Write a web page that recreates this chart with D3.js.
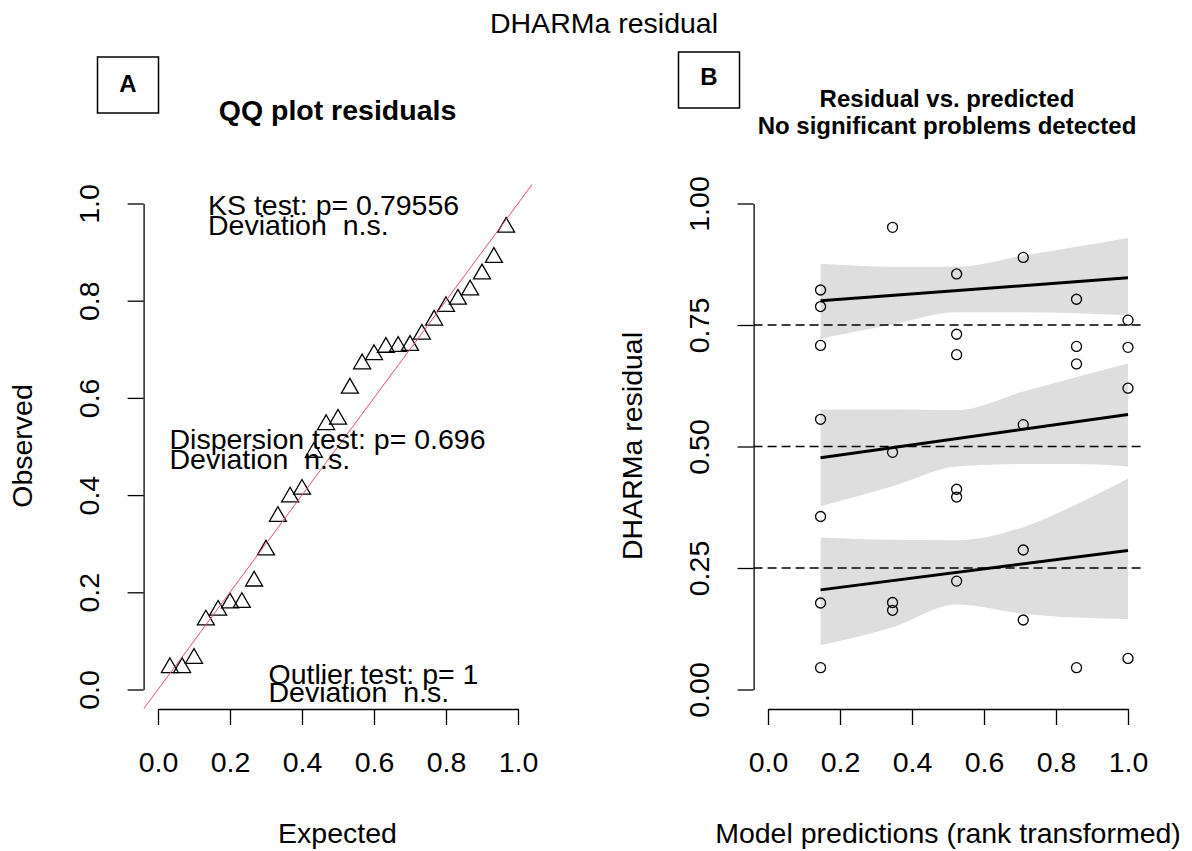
<!DOCTYPE html>
<html>
<head>
<meta charset="utf-8">
<script src="https://cdn.jsdelivr.net/npm/d3@7"></script>
<style>
  body { margin: 0; background: #fff; }
  svg text { font-family: "Liberation Sans", Arial, sans-serif; fill: #000; }
  .pre { white-space: pre; }
</style>
</head>
<body>
<div id="chart"></div>
<script>
// residuals, grouped by rank-transformed prediction
let predicted = [0.146, 0.146, 0.146, 0.146, 0.146, 0.146, 0.146,
                 0.346, 0.346, 0.346, 0.346,
                 0.524, 0.524, 0.524, 0.524, 0.524, 0.524,
                 0.709, 0.709, 0.709, 0.709,
                 0.857, 0.857, 0.857, 0.857,
                 1.0, 1.0, 1.0, 1.0];
let residuals = [0.822, 0.788, 0.708, 0.556, 0.356, 0.178, 0.045,
                 0.951, 0.488, 0.179, 0.163,
                 0.855, 0.731, 0.689, 0.412, 0.396, 0.223,
                 0.889, 0.545, 0.287, 0.143,
                 0.803, 0.706, 0.670, 0.045,
                 0.760, 0.704, 0.620, 0.064];

// QQ plot
let qqExpected = [0.033, 0.067, 0.100, 0.133, 0.167, 0.200, 0.233, 0.267, 0.300, 0.333,
                  0.367, 0.400, 0.433, 0.467, 0.500, 0.533, 0.567, 0.600, 0.633, 0.667,
                  0.700, 0.733, 0.767, 0.800, 0.833, 0.867, 0.900, 0.933, 0.967];
let qqObserved = [0.045, 0.045, 0.064, 0.143, 0.163, 0.178, 0.179, 0.223, 0.287, 0.356,
                  0.396, 0.412, 0.488, 0.545, 0.556, 0.620, 0.670, 0.689, 0.704, 0.706,
                  0.708, 0.731, 0.760, 0.788, 0.803, 0.822, 0.855, 0.889, 0.951];

// quantile fits and their confidence bands
let bandX = [0.146, 0.346, 0.524, 0.709, 0.857, 1.0];
let band75Upper = [0.876, 0.870, 0.870, 0.893, 0.911, 0.929];
let band75Lower = [0.722, 0.751, 0.776, 0.776, 0.774, 0.770];
let band50Upper = [0.576, 0.576, 0.575, 0.613, 0.643, 0.671];
let band50Lower = [0.377, 0.418, 0.459, 0.464, 0.464, 0.459];
let band25Upper = [0.313, 0.308, 0.307, 0.334, 0.381, 0.434];
let band25Lower = [0.091, 0.128, 0.175, 0.156, 0.148, 0.145];
let fitX = [0.146, 1.0];
let fit75 = [0.800, 0.847];
let fit50 = [0.477, 0.566];
let fit25 = [0.205, 0.286];
let quantileRefs = [0.25, 0.5, 0.75];

let qqTicks = [0, 0.2, 0.4, 0.6, 0.8, 1.0];
let resTicks = [0, 0.25, 0.5, 0.75, 1.0];

let tests = [
  ["KS test: p= 0.79556", "Deviation  n.s."],
  ["Dispersion test: p= 0.696", "Deviation  n.s."],
  ["Outlier test: p= 1", "Deviation  n.s."]
];

let svgWidth = 1192;
let svgHeight = 851;
let fs = 28.5;

let svg = d3.select("#chart")
  .append("svg")
  .attr("width", svgWidth)
  .attr("height", svgHeight);

svg.append("rect").attr("width", svgWidth).attr("height", svgHeight).attr("fill", "#fff");

// scales (R adds 4% to each side of the data range)
let xL = d3.scaleLinear().domain([0, 1]).range([158, 518]);
let yL = d3.scaleLinear().domain([0, 1]).range([689.5, 203.5]);
let xR = d3.scaleLinear().domain([0, 1]).range([768, 1128]);
let yR = d3.scaleLinear().domain([0, 1]).range([689.5, 203.5]);
let axisY = 709;

function styleAxis(g) {
  g.selectAll("path, line").attr("stroke", "#000").attr("stroke-width", 1.3);
  g.selectAll("text").attr("font-size", fs).attr("font-family", "Liberation Sans, Arial, sans-serif").attr("fill", "#000");
}

function leftAxis(scale, x, ticks, fmt) {
  let g = svg.append("g")
    .attr("transform", `translate(${x},0)`)
    .call(d3.axisLeft(scale).tickValues(ticks).tickFormat(fmt).tickSize(16).tickSizeOuter(0));
  styleAxis(g);
  g.selectAll(".tick text")
    .attr("transform", "rotate(-90)")
    .attr("x", 0)
    .attr("y", -45)
    .attr("dy", 0)
    .attr("text-anchor", "middle");
}

function bottomAxis(scale, ticks) {
  let g = svg.append("g")
    .attr("transform", `translate(0,${axisY})`)
    .call(d3.axisBottom(scale).tickValues(ticks).tickFormat(d3.format(".1f")).tickSize(16).tickSizeOuter(0).tickPadding(27));
  styleAxis(g);
}

// ---------- panel A: QQ plot ----------
let clipL = svg.append("clipPath").attr("id", "clipL").append("rect")
  .attr("x", xL(-0.04)).attr("y", yL(1.04))
  .attr("width", xL(1.04) - xL(-0.04)).attr("height", yL(-0.04) - yL(1.04));

let r = 9.8, xc = r * Math.sqrt(3) / 2;
let triPath = `M0,${-r}L${xc},${r / 2}L${-xc},${r / 2}Z`;

svg.append("g").selectAll("path")
  .data(qqExpected)
  .enter()
  .append("path")
  .attr("d", triPath)
  .attr("transform", (d, i) => `translate(${xL(d)},${yL(qqObserved[i])})`)
  .attr("fill", "none")
  .attr("stroke", "#000")
  .attr("stroke-width", 1.3);

svg.append("line")
  .attr("clip-path", "url(#clipL)")
  .attr("x1", xL(-0.1)).attr("y1", yL(-0.1))
  .attr("x2", xL(1.1)).attr("y2", yL(1.1))
  .attr("stroke", "#DF536B")
  .attr("stroke-width", 1);

leftAxis(yL, xL(-0.04), qqTicks, d3.format(".1f"));
bottomAxis(xL, qqTicks);

let testPos = [[208, 215, 235], [169.5, 449, 468.5], [268.5, 684, 702]];
tests.forEach(function(t, i) {
  let p = testPos[i];
  svg.append("text").attr("class", "pre").attr("x", p[0]).attr("y", p[1]).attr("font-size", fs).text(t[0]);
  svg.append("text").attr("class", "pre").attr("x", p[0]).attr("y", p[2]).attr("font-size", fs).text(t[1]);
});

svg.append("text")
  .attr("x", 337.5).attr("y", 120)
  .attr("text-anchor", "middle")
  .attr("font-size", fs).attr("font-weight", "bold")
  .text("QQ plot residuals");

svg.append("text")
  .attr("x", 337.5).attr("y", 843)
  .attr("text-anchor", "middle")
  .attr("font-size", fs)
  .text("Expected");

svg.append("text")
  .attr("transform", "translate(31.5,446) rotate(-90)")
  .attr("text-anchor", "middle")
  .attr("font-size", fs)
  .text("Observed");

// ---------- panel B: residual vs predicted ----------
let bands = [[band75Lower, band75Upper], [band50Lower, band50Upper], [band25Lower, band25Upper]];
let area = d3.area()
  .x(d => xR(d.x))
  .y0(d => yR(d.lo))
  .y1(d => yR(d.hi))
  .curve(d3.curveMonotoneX);

svg.append("g").selectAll("path")
  .data(bands)
  .enter()
  .append("path")
  .attr("d", b => area(bandX.map((x, i) => ({x: x, lo: b[0][i], hi: b[1][i]}))))
  .attr("fill", "#dedede");

svg.append("g").selectAll("line")
  .data(quantileRefs)
  .enter()
  .append("line")
  .attr("x1", xR(-0.04)).attr("x2", xR(1.04))
  .attr("y1", d => yR(d)).attr("y2", d => yR(d))
  .attr("stroke", "#000")
  .attr("stroke-width", 1.3)
  .attr("stroke-dasharray", "9,5");

let fitLine = d3.line().x(d => xR(d[0])).y(d => yR(d[1]));
svg.append("g").selectAll("path")
  .data([fit75, fit50, fit25])
  .enter()
  .append("path")
  .attr("d", f => fitLine(fitX.map((x, i) => [x, f[i]])))
  .attr("fill", "none")
  .attr("stroke", "#000")
  .attr("stroke-width", 3);

svg.append("g").selectAll("circle")
  .data(residuals)
  .enter()
  .append("circle")
  .attr("cx", (d, i) => xR(predicted[i]))
  .attr("cy", d => yR(d))
  .attr("r", 5)
  .attr("fill", "none")
  .attr("stroke", "#000")
  .attr("stroke-width", 1.3);

leftAxis(yR, xR(-0.04), resTicks, d3.format(".2f"));
bottomAxis(xR, qqTicks);

svg.append("text")
  .attr("x", 947).attr("y", 106.5)
  .attr("text-anchor", "middle")
  .attr("font-size", 24).attr("font-weight", "bold")
  .text("Residual vs. predicted");
svg.append("text")
  .attr("x", 947).attr("y", 134)
  .attr("text-anchor", "middle")
  .attr("font-size", 24).attr("font-weight", "bold")
  .text("No significant problems detected");

svg.append("text")
  .attr("x", 948).attr("y", 843)
  .attr("text-anchor", "middle")
  .attr("font-size", fs)
  .text("Model predictions (rank transformed)");

svg.append("text")
  .attr("transform", "translate(641.5,446) rotate(-90)")
  .attr("text-anchor", "middle")
  .attr("font-size", fs)
  .text("DHARMa residual");

// ---------- outer title and panel labels ----------
svg.append("text")
  .attr("x", 604).attr("y", 33)
  .attr("text-anchor", "middle")
  .attr("font-size", fs)
  .text("DHARMa residual");

let panels = [
  {label: "A", x: 97.5, y: 57, w: 61, h: 56, ty: 92},
  {label: "B", x: 678.5, y: 52, w: 61, h: 56, ty: 85}
];
panels.forEach(function(p) {
  svg.append("rect")
    .attr("x", p.x).attr("y", p.y).attr("width", p.w).attr("height", p.h)
    .attr("fill", "#fff").attr("stroke", "#000").attr("stroke-width", 1.5);
  svg.append("text")
    .attr("x", p.x + p.w / 2).attr("y", p.ty)
    .attr("text-anchor", "middle")
    .attr("font-size", 24).attr("font-weight", "bold")
    .text(p.label);
});
</script>
</body>
</html>
